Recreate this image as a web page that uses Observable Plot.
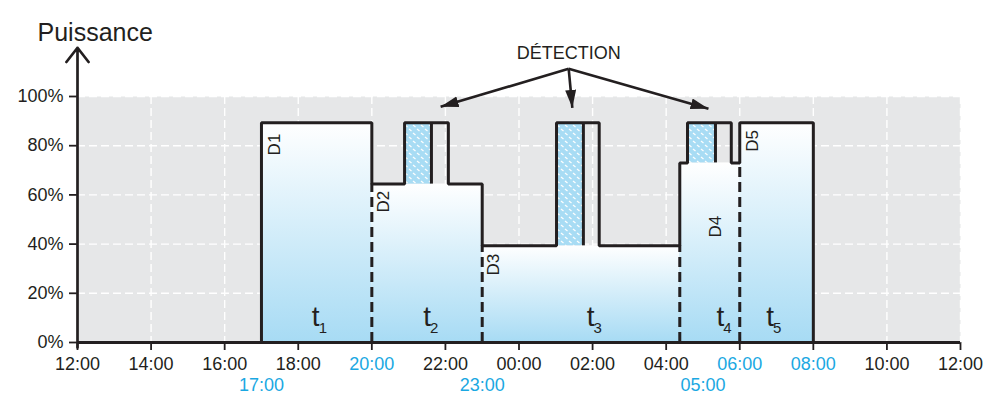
<!DOCTYPE html>
<html>
<head>
<meta charset="utf-8">
<script src="https://cdn.jsdelivr.net/npm/d3@7"></script>
<script src="https://cdn.jsdelivr.net/npm/@observablehq/plot@0.6"></script>
<style>
  html, body { margin: 0; padding: 0; background: #ffffff; }
  svg { display: block; }
</style>
</head>
<body>
<div id="chart"></div>
<script>
// ---------- data ----------
const xTicks = [0, 2, 4, 6, 8, 10, 12, 14, 16, 18, 20, 22, 24]; // hours after 12:00
const xTickLabels = ["12:00","14:00","16:00","18:00","20:00","22:00","00:00","02:00","04:00","06:00","08:00","10:00","12:00"];
const highlightedTickLabels = ["20:00", "06:00", "08:00"];
const yTicks = [0, 20, 40, 60, 80, 100];

const switchTimes = [5, 11, 17];
const switchLabels = ["17:00", "23:00", "05:00"];

const segmentNames = ["D1", "D2", "D3", "D4", "D5"];
const segmentStart = [5, 8, 11, 16.37, 18];
const segmentEnd = [8, 11, 16.37, 18, 20];
const segmentLevel = [89.3, 64.4, 39.3, 73, 89.3];

const detectStart = [8.89, 13.02, 16.58];
const detectSplit = [9.62, 13.75, 17.34];
const detectEnd = [10.08, 14.18, 17.77];
const detectTop = 89.3;

const periodSubscripts = ["1", "2", "3", "4", "5"];
const periodLabelX = [6.5, 9.53, 13.97, 17.5, 18.85];
const dLabelX = [5.35, 8.32, 11.31, 17.34, 18.35];
const dLabelTop = [84.9, 61.7, 36.1, 51.5, 86.4];

const detectionLabel = "DÉTECTION";
const detectionLabelAt = [13.35, 117.4];
const arrowFrom = [13.35, 111.3];
const arrowToX = [9.87, 13.45, 17.15];
const arrowToY = [95.8, 95.4, 95.0];

const titleText = "Puissance";

// ---------- derived tables ----------
const ink = "#231f20";
const blue = "#1aa8e2";

const segments = segmentNames.map((name, i) => ({
  name, start: segmentStart[i], end: segmentEnd[i], level: segmentLevel[i]
}));
const spikes = detectStart.map((s, i) => {
  const seg = segments.find(g => s >= g.start && s < g.end);
  return {start: s, split: detectSplit[i], end: detectEnd[i], base: seg.level, top: detectTop};
});

const outline = [[segments[0].start, 0]];
for (const seg of segments) {
  outline.push([seg.start, seg.level]);
  for (const sp of spikes) {
    if (sp.start >= seg.start && sp.start < seg.end) {
      outline.push([sp.start, seg.level], [sp.start, sp.top], [sp.end, sp.top], [sp.end, seg.level]);
    }
  }
  outline.push([seg.end, seg.level]);
}
outline.push([segments[segments.length - 1].end, 0]);

const boundaries = segments.slice(1).map((seg, i) => ({
  x: seg.start, top: Math.min(seg.level, segments[i].level)
}));

const dLabels = segmentNames.map((name, i) => ({name, x: dLabelX[i], y: dLabelTop[i]}));
const periodLabels = periodSubscripts.map((s, i) => ({s, x: periodLabelX[i]}));
const switchRows = switchTimes.map((x, i) => ({x, label: switchLabels[i]}));
const arrowTargets = arrowToX.map((x, i) => ({x, y: arrowToY[i]}));

// ---------- chart ----------
const chart = Plot.plot({
  width: 986,
  height: 394,
  marginLeft: 77,
  marginRight: 26,
  marginTop: 96,
  marginBottom: 52,
  style: {
    fontFamily: "'Liberation Sans', Arial, sans-serif",
    fontSize: "18px",
    color: ink,
    background: "#ffffff",
    overflow: "visible"
  },
  x: {
    domain: [0, 24],
    ticks: xTicks,
    tickFormat: d => xTickLabels[xTicks.indexOf(d)],
    tickSize: 8,
    tickPadding: 7,
    label: null
  },
  y: {
    domain: [0, 100],
    ticks: yTicks,
    tickFormat: d => d + "%",
    tickSize: 8,
    tickPadding: 6,
    label: null
  },
  marks: [
    Plot.frame({fill: "#e6e7e8", stroke: "none"}),
    Plot.ruleX(xTicks, {stroke: "#ffffff", strokeWidth: 1.4, strokeDasharray: "8,4"}),
    Plot.ruleY(yTicks.filter(d => d > 0), {stroke: "#ffffff", strokeWidth: 1.4, strokeDasharray: "8,4"}),
    Plot.rect(segments, {x1: "start", x2: "end", y1: 0, y2: "level", fill: "url(#powerGradient)"}),
    Plot.rect(spikes, {x1: "start", x2: "split", y1: "base", y2: "top", fill: "url(#detectHatch)"}),
    Plot.ruleX(boundaries, {x: "x", y1: 0, y2: "top", stroke: ink, strokeWidth: 3, strokeDasharray: "10,5"}),
    Plot.ruleX(spikes, {x: "split", y1: "base", y2: "top", stroke: ink, strokeWidth: 3}),
    Plot.line(outline, {x: d => d[0], y: d => d[1], stroke: ink, strokeWidth: 3, strokeLinejoin: "miter", strokeLinecap: "butt"}),
    Plot.ruleY([0], {stroke: ink, strokeWidth: 3}),
    Plot.arrow([0], {x1: 0, y1: -2, x2: 0, y2: 119.8, stroke: ink, strokeWidth: 2.7, headLength: 10, headAngle: 76}),
    Plot.text(dLabels, {x: "x", y: "y", text: "name", rotate: -90, textAnchor: "end", lineAnchor: "middle", fontSize: 17, fill: ink}),
    Plot.text(periodLabels, {x: "x", y: 0, text: () => "t", textAnchor: "end", lineAnchor: "bottom", dx: 3, dy: -17, fontSize: 28, fill: ink}),
    Plot.text(periodLabels, {x: "x", y: 0, text: "s", textAnchor: "start", lineAnchor: "bottom", dx: 2, dy: -10, fontSize: 15, fill: ink}),
    Plot.text(switchRows, {x: "x", y: 0, text: "label", dy: 43, fontSize: 18, fill: blue}),
    Plot.link(arrowTargets, {x1: () => arrowFrom[0], y1: () => arrowFrom[1], x2: "x", y2: "y", stroke: ink, strokeWidth: 2.6}),
    Plot.text([detectionLabel], {x: () => detectionLabelAt[0], y: () => detectionLabelAt[1], text: d => d, fontSize: 18, fill: ink}),
    Plot.text([titleText], {frameAnchor: "top-left", dx: -40, dy: -73, text: d => d, textAnchor: "start", fontSize: 25, fill: ink})
  ]
});

// gradient / pattern / marker definitions
const svgSel = d3.select(chart.tagName.toLowerCase() === "svg" ? chart : chart.querySelector("svg"));
const defs = svgSel.insert("defs", ":first-child");
const grad = defs.append("linearGradient").attr("id", "powerGradient")
  .attr("x1", 0).attr("y1", 0).attr("x2", 0).attr("y2", 1);
grad.append("stop").attr("offset", "0%").attr("stop-color", "#ffffff");
grad.append("stop").attr("offset", "100%").attr("stop-color", "#a7dbf4");

const pat = defs.append("pattern").attr("id", "detectHatch")
  .attr("patternUnits", "userSpaceOnUse").attr("width", 8).attr("height", 8);
pat.append("rect").attr("width", 8).attr("height", 8).attr("fill", "#a8dcf4");
pat.append("line").attr("x1", 1).attr("y1", 1).attr("x2", 3.5).attr("y2", 3)
  .attr("stroke", "#ffffff").attr("stroke-width", 1.3);
pat.append("line").attr("x1", 5).attr("y1", 5).attr("x2", 7.5).attr("y2", 7)
  .attr("stroke", "#ffffff").attr("stroke-width", 1.3);

const marker = defs.append("marker").attr("id", "filledArrow")
  .attr("markerUnits", "userSpaceOnUse").attr("orient", "auto")
  .attr("markerWidth", 20).attr("markerHeight", 12)
  .attr("refX", 18).attr("refY", 5.5).attr("viewBox", "0 0 20 12");
marker.append("path").attr("d", "M0,0 L18,5.5 L0,11 Z").attr("fill", ink);

svgSel.selectAll('g[aria-label="link"] path').attr("marker-end", "url(#filledArrow)");

svgSel.selectAll("text")
  .filter(function () { return highlightedTickLabels.includes(this.textContent); })
  .attr("fill", blue);
svgSel.selectAll('g[aria-label="x-axis tick"], g[aria-label="y-axis tick"]').attr("stroke-width", 1.8);

document.getElementById("chart").appendChild(chart);
</script>
</body>
</html>
